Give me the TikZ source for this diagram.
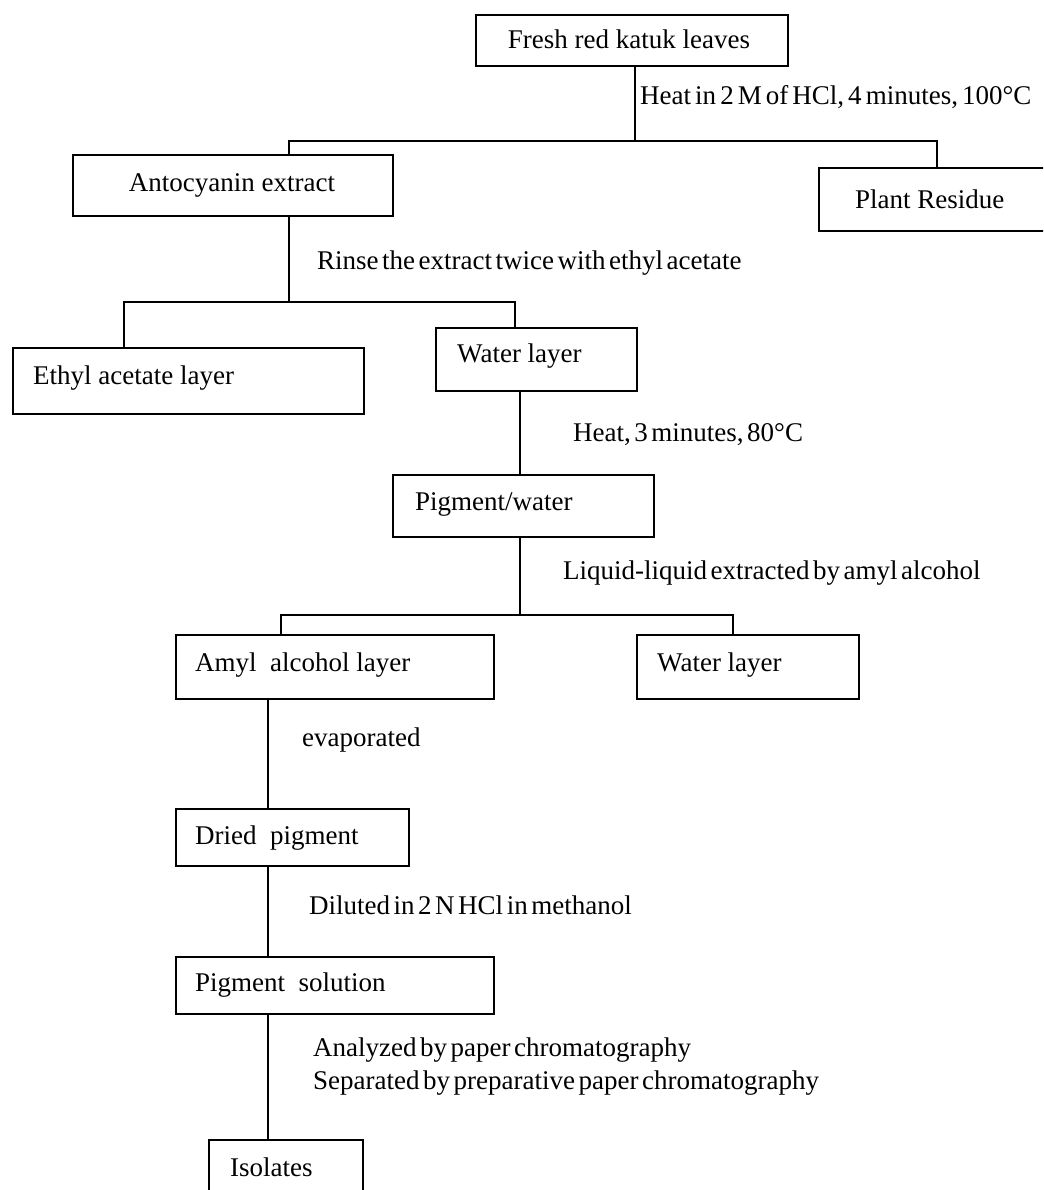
\documentclass[tikz,border=0pt]{standalone}
\usepackage{fontspec}
\setmainfont{Liberation Serif}
\newcommand{\tsp}{\spaceskip=0.13em plus 0.02em minus 0.02em\relax}
\newcommand{\tspx}{\spaceskip=0.15em\relax}
\begin{document}
\begin{tikzpicture}[x=1pt,y=-1pt,
  box/.style={draw, line width=1.8pt, inner sep=0pt, anchor=north west},
  lbl/.style={anchor=west, inner sep=0pt, align=left},
  steplbl/.style={anchor=west, inner sep=0pt, align=left},
  conn/.style={line width=1.4pt},
  every node/.style={font=\fontsize{27}{33}\selectfont}]
\useasboundingbox (0,0) rectangle (1043,1190);
\clip (0,0) rectangle (1043,1190);
% boxes
\node[box, minimum width=312pt, minimum height=51pt] (fresh) at (475,14) {};
\node[lbl, anchor=center] at (629,39.5) {Fresh red katuk leaves};
\node[box, minimum width=320pt, minimum height=61pt] (anto) at (72,154) {};
\node[lbl, anchor=center] at (232,185) {Antocyanin extract};
\node[box, minimum width=260pt, minimum height=63pt] (plant) at (818,167) {};
\node[lbl] at (855,199) {Plant Residue};
\node[box, minimum width=351pt, minimum height=66pt] (ethyl) at (12,347) {};
\node[lbl] at (33,378) {Ethyl acetate layer};
\node[box, minimum width=201pt, minimum height=63pt] (wat1) at (435,327) {};
\node[lbl] at (457,356) {Water layer};
\node[box, minimum width=261pt, minimum height=62pt] (pigw) at (392,474) {};
\node[lbl] at (415,504) {Pigment/water};
\node[box, minimum width=318pt, minimum height=64pt] (amyl) at (175,634) {};
\node[lbl] at (195,665) {Amyl\ \ alcohol layer};
\node[box, minimum width=222pt, minimum height=64pt] (wat2) at (636,634) {};
\node[lbl] at (657,665) {Water layer};
\node[box, minimum width=233pt, minimum height=57pt] (dried) at (175,808) {};
\node[lbl] at (195,838) {Dried\ \ pigment};
\node[box, minimum width=318pt, minimum height=57pt] (psol) at (175,956) {};
\node[lbl] at (195,985) {Pigment\ \ solution};
\node[box, minimum width=154pt, minimum height=80pt] (iso) at (208,1139) {};
\node[lbl] at (230,1167) {Isolates};
% junction coordinates
\coordinate (j1) at (635,141);
\coordinate (j2) at (289,302);
\coordinate (j3) at (520,615);
% connectors
\draw[conn] (fresh.south -| j1) -- (j1);
\draw[conn] (j1) -- (289,141) -- (289,154);
\draw[conn] (j1) -- (937,141) -- (937,167);
\draw[conn] (j2 |- anto.south) -- (j2);
\draw[conn] (j2) -- (124,302) -- (124,347);
\draw[conn] (j2) -- (515,302) -- (515,327);
\draw[conn] (520,390) -- (520,474);
\draw[conn] (j3 |- pigw.south) -- (j3);
\draw[conn] (j3) -- (281,615) -- (281,634);
\draw[conn] (j3) -- (733,615) -- (733,634);
\draw[conn] (268,698) -- (268,808);
\draw[conn] (268,865) -- (268,956);
\draw[conn] (268,1013) -- (268,1139);
% step labels
\node[steplbl] at (640,97) {\tspx Heat in 2 M of HCl, 4 minutes, 100°C};
\node[steplbl] at (317,263) {\tsp Rinse the extract twice with ethyl acetate};
\node[steplbl] at (573,435) {\tsp Heat, 3 minutes, 80°C};
\node[steplbl] at (563,573) {\tsp Liquid-liquid extracted by amyl alcohol};
\node[steplbl] at (302,740) {\tsp evaporated};
\node[steplbl] at (309,905) {\tsp Diluted in 2 N HCl in methanol};
\node[steplbl] at (313,1067) {\tsp Analyzed by paper chromatography\\\tsp Separated by preparative paper chromatography};
\end{tikzpicture}
\end{document}
